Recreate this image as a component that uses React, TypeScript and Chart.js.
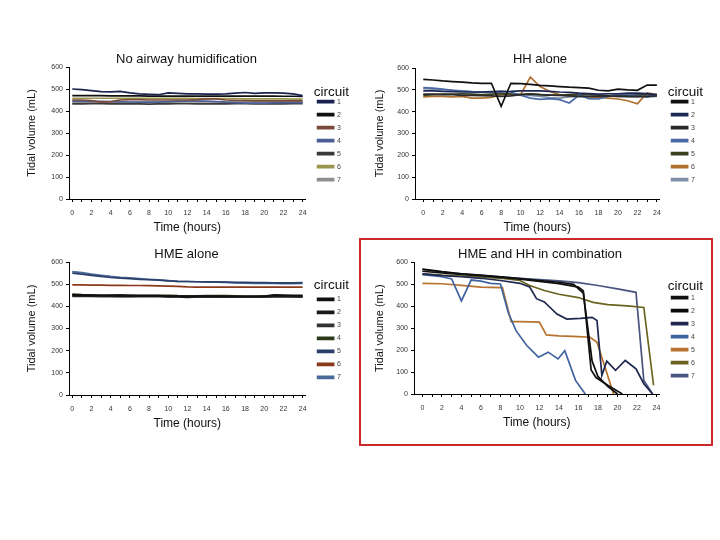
import { useEffect, useRef } from "react"
import { Chart, registerables } from "chart.js"

Chart.register(...registerables)

const FONT = "'Liberation Sans', Arial, Helvetica, sans-serif"

// hourly sample times (0..24 h)
const hours = [0, 1, 2, 3, 4, 5, 6, 7, 8, 9, 10, 11, 12, 13, 14, 15, 16, 17, 18, 19, 20, 21, 22, 23, 24]
const circuits = ["1", "2", "3", "4", "5", "6", "7"]
const panelTitles = ["No airway humidification", "HH alone", "HME alone", "HME and HH in combination"]

// tidal volume (mL) per circuit, one row per circuit
const noHumidVolumes = [
    [500, 497, 493, 488, 487, 489, 482, 478, 476, 474, 482, 480, 478, 478, 477, 477, 478, 481, 484, 480, 482, 482, 481, 478, 470],
    [470, 470, 470, 470, 469, 469, 469, 469, 468, 468, 468, 468, 468, 468, 468, 468, 468, 468, 468, 468, 468, 468, 467, 467, 466],
    [450, 450, 447, 440, 443, 450, 452, 452, 450, 450, 450, 450, 450, 452, 455, 455, 450, 448, 447, 446, 446, 446, 446, 446, 446],
    [445, 445, 444, 444, 443, 442, 441, 440, 440, 440, 443, 445, 445, 445, 445, 443, 440, 438, 436, 436, 436, 437, 438, 438, 438],
    [432, 432, 433, 433, 432, 432, 432, 432, 431, 432, 432, 433, 433, 432, 432, 432, 432, 433, 433, 432, 432, 432, 432, 433, 433],
    [458, 458, 458, 458, 458, 457, 457, 457, 457, 457, 457, 457, 457, 456, 456, 456, 456, 456, 455, 455, 455, 455, 455, 454, 454],
    [438, 438, 438, 438, 439, 439, 439, 439, 439, 440, 440, 440, 441, 441, 441, 441, 441, 441, 441, 441, 441, 441, 441, 441, 441],
]
const noHumidColors = ["#1a2250", "#111111", "#7a4a3a", "#4a5f95", "#3a3a3a", "#9a9650", "#8f8f8f"]

const hhVolumes = [
    [548, 545, 541, 538, 535, 532, 530, 530, 425, 530, 528, 525, 520, 518, 515, 512, 510, 508, 498, 495, 503, 500, 498, 522, 522],
    [495, 495, 493, 492, 490, 490, 490, 492, 492, 493, 495, 495, 495, 493, 490, 488, 485, 483, 480, 482, 482, 485, 485, 483, 478],
    [480, 480, 478, 478, 475, 475, 473, 472, 470, 472, 478, 482, 478, 476, 474, 472, 470, 470, 470, 472, 470, 470, 470, 470, 472],
    [510, 508, 503, 498, 494, 491, 489, 490, 494, 490, 475, 462, 456, 460, 455, 440, 476, 460, 458, 470, 480, 478, 474, 468, 478],
    [475, 478, 480, 480, 482, 480, 478, 480, 482, 480, 478, 480, 478, 476, 476, 478, 480, 478, 476, 474, 474, 476, 478, 478, 476],
    [468, 470, 470, 468, 470, 462, 462, 465, 478, 478, 478, 558, 515, 492, 478, 474, 472, 468, 465, 462, 458, 450, 436, 486, 478],
    [505, 503, 500, 498, 495, 492, 490, 488, 485, 482, 478, 475, 470, 465, 462, 468, 470, 468, 470, 472, 470, 468, 466, 468, 470],
]
const hhColors = ["#111111", "#1e2a55", "#2a2a2a", "#4a6aa8", "#3a4020", "#b07030", "#7f8fa8"]

const hmeVolumes = [
    [452, 452, 451, 450, 450, 449, 449, 448, 448, 448, 446, 446, 445, 446, 446, 446, 445, 445, 445, 445, 445, 452, 451, 450, 450],
    [448, 447, 446, 448, 446, 445, 445, 446, 447, 446, 443, 442, 440, 442, 443, 443, 444, 443, 442, 442, 442, 445, 446, 444, 442],
    [445, 445, 445, 444, 444, 444, 444, 444, 444, 444, 444, 444, 443, 443, 443, 443, 443, 443, 443, 443, 443, 443, 443, 443, 443],
    [455, 453, 452, 450, 451, 452, 450, 450, 449, 450, 450, 448, 447, 447, 448, 448, 448, 447, 446, 446, 447, 448, 447, 446, 447],
    [550, 545, 540, 535, 530, 527, 525, 522, 520, 518, 515, 513, 512, 511, 510, 510, 509, 508, 508, 507, 507, 506, 506, 506, 507],
    [497, 497, 496, 496, 495, 495, 494, 494, 493, 492, 491, 490, 488, 487, 487, 487, 487, 487, 487, 487, 487, 487, 487, 487, 487],
    [557, 552, 545, 540, 535, 531, 528, 525, 522, 519, 516, 513, 512, 511, 510, 509, 508, 506, 505, 504, 504, 503, 502, 502, 503],
]
const hmeColors = ["#111111", "#1a1a1a", "#333333", "#2a3a1a", "#2a3f6a", "#8a3a1a", "#4a6a9a"]

// combination circuits were read at irregular times until failure
const comboTimes = [
    [0, 2, 4, 6, 8, 10, 12, 14, 16, 16.5, 17.3, 17.8, 19, 20.5],
    [0, 2, 4, 6, 8, 10, 12, 14, 15.5, 16.5, 17.4, 18, 19, 20],
    [0, 2, 4, 6, 8, 10, 11, 11.7, 12.5, 13.8, 14.8, 16.2, 17.4, 17.9, 18.4, 18.9, 19.8, 20.8, 21.9, 22.7, 23.6],
    [0, 1, 2, 3, 4, 5, 6, 7, 8, 8.8, 9.6, 10.7, 11.9, 12.9, 13.9, 14.6, 15.7, 16.7],
    [0, 2, 4, 6, 8, 8.2, 9.1, 10, 12, 12.7, 14, 16, 17.2, 17.9, 19.6],
    [0, 2, 4, 6, 8, 10, 11, 12.5, 14, 16, 17.5, 19, 21, 22.7, 23.7],
    [0, 2, 4, 6, 8, 10, 12, 14, 16, 18, 20, 21.9, 22.7, 23.6],
]
const comboVolumes = [
    [560, 552, 546, 540, 532, 524, 514, 504, 488, 470, 110, 75, 40, 0],
    [570, 558, 548, 541, 534, 526, 518, 510, 500, 460, 150, 80, 35, 0],
    [548, 540, 535, 528, 518, 505, 488, 435, 420, 365, 342, 345, 350, 335, 85, 150, 108, 153, 115, 47, 0],
    [545, 540, 535, 525, 425, 520, 515, 505, 502, 372, 289, 221, 168, 191, 160, 198, 62, 0],
    [505, 503, 496, 488, 485, 486, 330, 330, 328, 270, 265, 262, 259, 236, 0],
    [548, 542, 538, 534, 528, 518, 495, 472, 455, 440, 418, 408, 402, 395, 40],
    [568, 556, 548, 542, 535, 528, 522, 516, 508, 495, 480, 464, 62, 0],
]
const comboColors = ["#111111", "#0b0b0b", "#1e2850", "#3f64a0", "#b8732e", "#6b6420", "#4a5580"]

type Series = { label: string; xs: number[]; ys: number[]; color: string }

type PanelProps = {
    title: string
    series: Series[]
    left: number
    top: number
    width: number
    height: number
    yAxisWidth: number
    padRight: number
    titleGap: number
    titleShift: number
    legendTop: number
    legendGap: number
    xMin: number
    xMax: number
}

// legend sits a few px clear of the plot, title is centred over the plot
const nudge = (titleShift: number) => ({
    id: "nudge",
    afterLayout(chart: any) {
        const lg = chart.legend
        if (lg) {
            lg.left += 6
            lg.right += 6
        }
        const tb = chart.titleBlock
        if (tb) {
            tb.left += titleShift
            tb.right += titleShift
        }
    },
})

function Panel(p: PanelProps) {
    const canvasRef = useRef<HTMLCanvasElement>(null)

    useEffect(() => {
        if (!canvasRef.current) return
        const chart = new Chart(canvasRef.current, {
            type: "line",
            data: {
                datasets: p.series.map((s) => ({
                    label: s.label,
                    data: s.xs.map((x, i) => ({ x, y: s.ys[i] })),
                    borderColor: s.color,
                    backgroundColor: s.color,
                    borderWidth: 1.7,
                    pointRadius: 0,
                    tension: 0,
                    fill: false,
                })),
            },
            options: {
                animation: false,
                responsive: true,
                maintainAspectRatio: false,
                layout: { padding: { right: p.padRight } },
                plugins: {
                    title: {
                        display: true,
                        text: p.title,
                        color: "#111",
                        font: { family: FONT, size: 13, weight: "normal", lineHeight: 1 },
                        padding: { top: 0, bottom: p.titleGap },
                    },
                    legend: {
                        position: "right",
                        align: "start",
                        title: {
                            display: true,
                            text: "circuit",
                            color: "#111",
                            font: { family: FONT, size: 13.5, lineHeight: 0.5 },
                            padding: { top: p.legendTop, bottom: p.legendGap },
                        },
                        labels: {
                            boxWidth: 16,
                            boxHeight: 2,
                            padding: 6,
                            color: "#444",
                            font: { family: FONT, size: 7 },
                        },
                    },
                    tooltip: { enabled: false },
                },
                scales: {
                    x: {
                        type: "linear",
                        min: p.xMin,
                        max: p.xMax,
                        afterBuildTicks: (scale: any) => {
                            scale.ticks = hours.map((h) => ({ value: h }))
                        },
                        afterFit: (scale: any) => {
                            scale.height = 39
                        },
                        grid: { drawOnChartArea: false, drawTicks: true, tickLength: 3, color: "#000" },
                        border: { display: true, color: "#000", width: 1 },
                        ticks: {
                            autoSkip: false,
                            maxRotation: 0,
                            padding: 7,
                            color: "#333",
                            font: { family: FONT, size: 7 },
                            callback: (v: any) => (Number(v) % 2 === 0 ? String(v) : ""),
                        },
                        title: {
                            display: true,
                            text: "Time (hours)",
                            color: "#111",
                            font: { family: FONT, size: 12 },
                            padding: { top: 3, bottom: 3 },
                        },
                    },
                    y: {
                        min: 0,
                        max: 600,
                        afterFit: (scale: any) => {
                            scale.width = p.yAxisWidth
                        },
                        grid: { drawOnChartArea: false, drawTicks: true, tickLength: 3, color: "#000" },
                        border: { display: true, color: "#000", width: 1 },
                        ticks: {
                            stepSize: 100,
                            padding: 3,
                            color: "#333",
                            font: { family: FONT, size: 7 },
                        },
                        title: {
                            display: true,
                            text: "Tidal volume (mL)",
                            color: "#111",
                            font: { family: FONT, size: 11 },
                            padding: { top: 3, bottom: 3 },
                        },
                    },
                },
            },
            plugins: [nudge(p.titleShift)],
        })
        return () => chart.destroy()
    }, [])

    return (
        <div style={{ position: "absolute", left: p.left, top: p.top, width: p.width, height: p.height }}>
            <canvas ref={canvasRef}></canvas>
        </div>
    )
}

const hourly = (rows: number[][], colors: string[]): Series[] =>
    rows.map((ys, i) => ({ label: circuits[i], xs: hours, ys, color: colors[i] }))

export default function App() {
    const comboSeries: Series[] = comboVolumes.map((ys, i) => ({
        label: circuits[i],
        xs: comboTimes[i],
        ys,
        color: comboColors[i],
    }))

    return (
        <div style={{ position: "fixed", left: 0, top: 0, width: 720, height: 540, background: "#fff", overflow: "hidden" }}>
            <Panel title={panelTitles[0]} series={hourly(noHumidVolumes, noHumidColors)}
                left={22} top={53} width={334} height={185} yAxisWidth={47} padRight={11}
                titleGap={1} titleShift={3} legendTop={32.25} legendGap={0.2} xMin={-0.34} xMax={24.31} />
            <Panel title={panelTitles[1]} series={hourly(hhVolumes, hhColors)}
                left={370} top={53} width={342} height={185} yAxisWidth={45} padRight={13}
                titleGap={2} titleShift={5.5} legendTop={32.25} legendGap={0.2} xMin={-0.85} xMax={24.28} />
            <Panel title={panelTitles[2]} series={hourly(hmeVolumes, hmeColors)}
                left={22} top={248} width={334} height={186} yAxisWidth={47} padRight={11}
                titleGap={1} titleShift={3} legendTop={30.25} legendGap={4.8} xMin={-0.34} xMax={24.31} />
            <Panel title={panelTitles[3]} series={comboSeries}
                left={370} top={248} width={342} height={185} yAxisWidth={44} padRight={13}
                titleGap={1.5} titleShift={5.5} legendTop={31.25} legendGap={2.2} xMin={-0.86} xMax={24.32} />
            <div style={{ position: "absolute", left: 359, top: 238, width: 354, height: 208, border: "2px solid #cc2a2a", boxSizing: "border-box" }} />
        </div>
    )
}
